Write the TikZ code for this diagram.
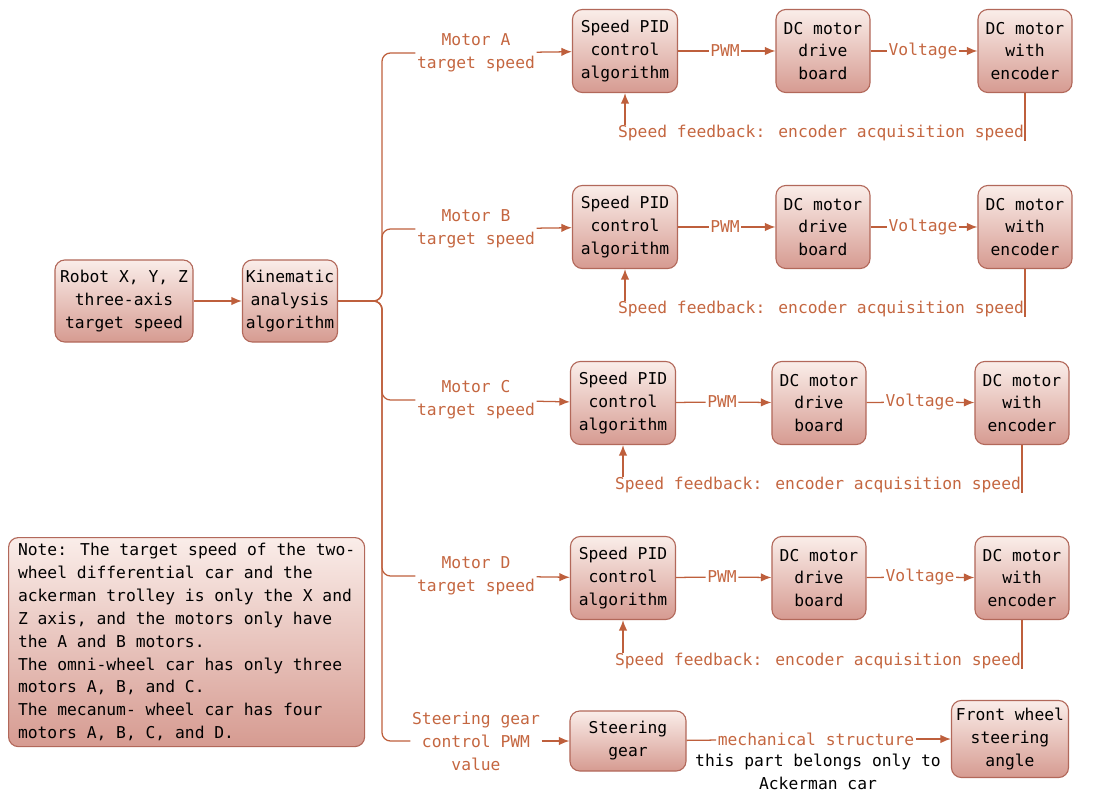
\documentclass[tikz,border=0pt]{standalone}
\usepackage{fontspec}
\setmainfont{DejaVu Sans Mono}
\usepackage{tikz}
\definecolor{wirered}{RGB}{190,95,60}
\definecolor{lbl}{RGB}{196,102,64}
\definecolor{boxline}{RGB}{178,104,90}
\definecolor{boxtop}{RGB}{250,237,233}
\definecolor{boxbot}{RGB}{214,155,145}
\usetikzlibrary{positioning,arrows.meta}
\newcommand*{\boxfont}{\fontsize{11.6}{16.3}\selectfont}
\tikzset{%
  block/.style={draw=boxline, line width=0.8pt, rounded corners=7pt,
    top color=boxtop, bottom color=boxbot, align=center, inner sep=2pt,
    font=\boxfont},% shaded rounded block
  pidbox/.style={block, minimum width=2.625cm, minimum height=2.075cm},% speed PID
  motbox/.style={block, minimum width=2.35cm, minimum height=2.075cm},% drive board / motor
  tag/.style={text=lbl, align=center, inner sep=1pt, font=\boxfont},% label on a wire
  link/.style={draw=wirered, line width=0.9pt},% plain wire
  flow/.style={link, -{Latex[length=7.5pt,width=6pt]}}% wire with arrow
}

\begin{document}
\begin{tikzpicture}[x=0.025cm, y=-0.025cm]
\useasboundingbox (0,0) rectangle (1094,801);
\node[block, minimum width=3.45cm, minimum height=2.05cm] (robot) at (124,301) {Robot X, Y, Z\\three-axis\\target speed};
\node[block, minimum width=2.375cm, minimum height=2.05cm] (kin) at (290,301) {Kinematic\\analysis\\algorithm};
\coordinate (trunk) at (382,301);
\draw[flow] (robot) -- (kin);

% motor A
\node[tag] (motA) at (476,53) {Motor A\\target speed};
\node[pidbox] (pidA) at (625,51) {Speed PID\\control\\algorithm};
\node[tag] (pwmA) at (725,51) {PWM};
\node[motbox] (drvA) at (823,51) {DC motor\\drive\\board};
\node[tag] (volA) at (923,51) {Voltage};
\node[motbox] (encA) at (1025,51) {DC motor\\with\\encoder};
\node[tag, inner sep=0pt] (fbA) at (821,133) {Speed feedback: encoder acquisition speed};

% motor B
\node[tag] (motB) at (476,229) {Motor B\\target speed};
\node[pidbox] (pidB) at (625,227) {Speed PID\\control\\algorithm};
\node[tag] (pwmB) at (725,227) {PWM};
\node[motbox] (drvB) at (823,227) {DC motor\\drive\\board};
\node[tag] (volB) at (923,227) {Voltage};
\node[motbox] (encB) at (1025,227) {DC motor\\with\\encoder};
\node[tag, inner sep=0pt] (fbB) at (821,309) {Speed feedback: encoder acquisition speed};

% motor C
\node[tag] (motC) at (476,400) {Motor C\\target speed};
\node[pidbox] (pidC) at (623,403) {Speed PID\\control\\algorithm};
\node[tag] (pwmC) at (722,402) {PWM};
\node[motbox] (drvC) at (819,403) {DC motor\\drive\\board};
\node[tag] (volC) at (920,402) {Voltage};
\node[motbox] (encC) at (1022,403) {DC motor\\with\\encoder};
\node[tag, inner sep=0pt] (fbC) at (818,485) {Speed feedback: encoder acquisition speed};

% motor D
\node[tag] (motD) at (476,576) {Motor D\\target speed};
\node[pidbox] (pidD) at (623,578) {Speed PID\\control\\algorithm};
\node[tag] (pwmD) at (722,577) {PWM};
\node[motbox] (drvD) at (819,578) {DC motor\\drive\\board};
\node[tag] (volD) at (920,577) {Voltage};
\node[motbox] (encD) at (1022,578) {DC motor\\with\\encoder};
\node[tag, inner sep=0pt] (fbD) at (818,661) {Speed feedback: encoder acquisition speed};

% steering gear (Ackerman only)
\node[tag] (strg) at (476,741) {Steering gear\\control PWM\\value};
\node[block, minimum width=2.9cm, minimum height=1.5cm] (gear) at (628,741) {Steering\\gear};
\node[tag] (mech) at (816,739) {mechanical structure};
\node[block, minimum width=2.925cm, minimum height=1.925cm] (front) at (1010,739) {Front wheel\\steering\\angle};
\node[align=center, inner sep=1pt, font=\boxfont] (ack) at (818,772) {this part belongs only to\\Ackerman car};

\node[block, align=left, anchor=north west, minimum width=8.9cm, minimum height=5.225cm,
  inner xsep=1pt, inner ysep=1pt] (note) at (8,537) {Note: The target speed of the two-\\wheel differential car and the\\ackerman trolley is only the X and\\Z axis, and the motors only have\\the A and B motors.\\The omni-wheel car has only three\\motors A, B, and C.\\The mecanum- wheel car has four\\motors A, B, C, and D.};

% wires
\draw[link, rounded corners=6pt] (kin.east) -- (trunk) |- (motA);
\draw[link, rounded corners=6pt] (kin.east) -- (trunk) |- (motB);
\draw[link, rounded corners=6pt] (kin.east) -- (trunk) |- (motC);
\draw[link, rounded corners=6pt] (kin.east) -- (trunk) |- (motD);
\draw[link, rounded corners=6pt] (kin.east) -- (trunk) |- (strg);

\draw[flow] (motA) -- (pidA);
\draw[link] (pidA) -- (pwmA);
\draw[flow] (pwmA) -- (drvA);
\draw[link] (drvA) -- (volA);
\draw[flow] (volA) -- (encA);
\draw[link] (encA.south) -- (encA.south |- fbA.south);
\draw[flow] (pidA.south |- fbA.north) -- (pidA.south);

\draw[flow] (motB) -- (pidB);
\draw[link] (pidB) -- (pwmB);
\draw[flow] (pwmB) -- (drvB);
\draw[link] (drvB) -- (volB);
\draw[flow] (volB) -- (encB);
\draw[link] (encB.south) -- (encB.south |- fbB.south);
\draw[flow] (pidB.south |- fbB.north) -- (pidB.south);

\draw[flow] (motC) -- (pidC);
\draw[link] (pidC) -- (pwmC);
\draw[flow] (pwmC) -- (drvC);
\draw[link] (drvC) -- (volC);
\draw[flow] (volC) -- (encC);
\draw[link] (encC.south) -- (encC.south |- fbC.south);
\draw[flow] (pidC.south |- fbC.north) -- (pidC.south);

\draw[flow] (motD) -- (pidD);
\draw[link] (pidD) -- (pwmD);
\draw[flow] (pwmD) -- (drvD);
\draw[link] (drvD) -- (volD);
\draw[flow] (volD) -- (encD);
\draw[link] (encD.south) -- (encD.south |- fbD.south);
\draw[flow] (pidD.south |- fbD.north) -- (pidD.south);

\draw[flow] (strg) -- (gear);
\draw[link] (gear) -- (mech);
\draw[flow] (mech) -- (front);
\end{tikzpicture}
\end{document}
